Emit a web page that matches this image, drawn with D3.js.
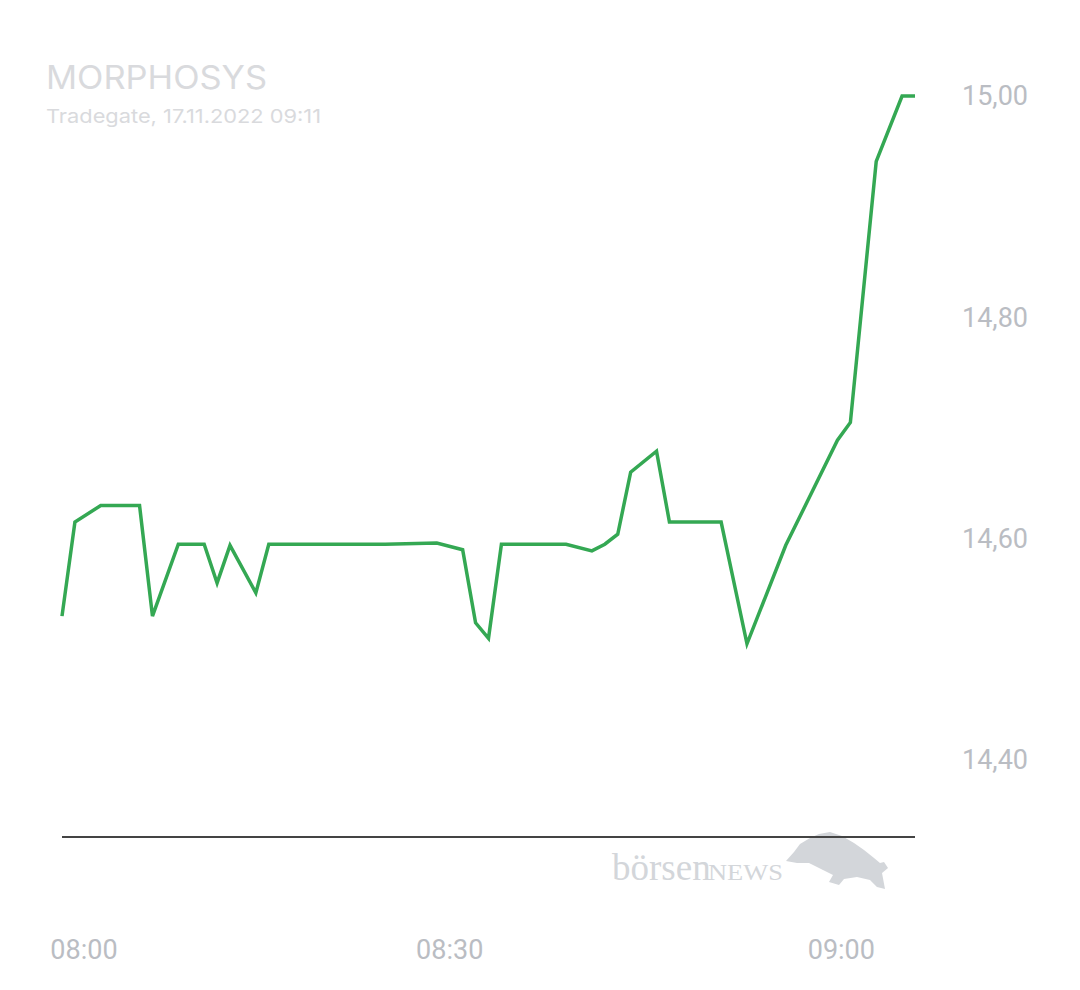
<!DOCTYPE html>
<html>
<head>
<meta charset="utf-8">
<script src="https://cdn.jsdelivr.net/npm/d3@7"></script>
<style>
  body { margin: 0; background: #fff; }
  svg { display: block; }
</style>
</head>
<body>
<svg width="1080" height="990"></svg>
<script>
// trade index (one step per quote slot) and price in EUR
var tradeIndex = [0, 1, 3, 5, 6, 7, 9, 11, 12, 13, 15, 16, 20, 25, 29, 31, 32, 33, 34, 39, 41, 42, 43, 44, 46, 47, 51, 53, 56, 60, 61, 63, 65, 66];
var prices = [14.530, 14.615, 14.630, 14.630, 14.630, 14.530, 14.595, 14.595, 14.560, 14.594, 14.551, 14.595, 14.595, 14.595, 14.596, 14.590, 14.524, 14.510, 14.595, 14.595, 14.589, 14.595, 14.604, 14.660, 14.679, 14.615, 14.615, 14.505, 14.594, 14.689, 14.705, 14.941, 15.000, 15.000];

var priceTicks = [14.4, 14.6, 14.8, 15.0];
var timeTicks = [1.7, 30, 60.3];
var timeLabels = ["08:00", "08:30", "09:00"];

var svg = d3.select("svg");

var x = d3.scaleLinear().domain([0, 66]).range([62, 915]);
var y = d3.scaleLinear().domain([14.4, 15.0]).range([760, 96]);
var baseY = 837;

var data = tradeIndex.map(function(d, i) { return { i: d, v: prices[i] }; });

// title
svg.append("text")
    .attr("x", 46).attr("y", 89)
    .style("font-family", "Inter, 'Open Sans', sans-serif")
    .style("font-size", "32px")
    .style("fill", "#d9dadd")
    .attr("textLength", 221)
    .attr("lengthAdjust", "spacingAndGlyphs")
    .text("MORPHOSYS");

svg.append("text")
    .attr("x", 46).attr("y", 123)
    .style("font-family", "Inter, 'Open Sans', sans-serif")
    .style("font-size", "19px")
    .style("fill", "#d9dadd")
    .attr("textLength", 275)
    .attr("lengthAdjust", "spacingAndGlyphs")
    .text("Tradegate, 17.11.2022 09:11");

// watermark
var wm = svg.append("g").style("fill", "#d3d6da");
wm.append("text")
    .attr("x", 612).attr("y", 880)
    .style("font-family", "'Liberation Serif', 'DejaVu Serif', serif")
    .style("font-size", "37px")
    .text("börsen");
wm.append("text")
    .attr("x", 708).attr("y", 880)
    .style("font-family", "'Liberation Serif', 'DejaVu Serif', serif")
    .style("font-size", "24px")
    .attr("textLength", 75)
    .attr("lengthAdjust", "spacingAndGlyphs")
    .text("NEWS");
wm.append("path")
    .attr("d", "M786,861 L794,852 L800,844 L810,838 L819,834 L830,832 L842,836 L854,843 L864,850 L874,858 L880,863 L884,862 L888,868 L882,873 L885,889 L877,887 L870,880 L857,877 L844,879 L839,885 L829,882 L833,875 L821,869 L809,863 L797,863 Z");

// baseline
svg.append("line")
    .attr("x1", x(0)).attr("x2", x(66))
    .attr("y1", baseY).attr("y2", baseY)
    .style("stroke", "#444")
    .style("stroke-width", 2);

// price axis on the right
svg.selectAll(".ylab")
    .data(priceTicks)
    .enter().append("text")
    .attr("class", "ylab")
    .attr("x", 962)
    .attr("y", function(d) { return y(d); })
    .attr("dy", "0.35em")
    .style("font-family", "Roboto, sans-serif")
    .style("font-size", "27px")
    .style("fill", "#babdc3")
    .text(function(d) { return d.toFixed(2).replace(".", ","); });

// time labels
svg.selectAll(".xlab")
    .data(timeTicks)
    .enter().append("text")
    .attr("class", "xlab")
    .attr("x", function(d) { return x(d); })
    .attr("y", 950)
    .attr("dy", "0.35em")
    .attr("text-anchor", "middle")
    .style("font-family", "Roboto, sans-serif")
    .style("font-size", "27px")
    .style("fill", "#babdc3")
    .text(function(d, i) { return timeLabels[i]; });

var line = d3.line()
    .x(function(d) { return x(d.i); })
    .y(function(d) { return y(d.v); });

svg.append("path")
    .datum(data)
    .attr("d", line)
    .style("fill", "none")
    .style("stroke", "#34a853")
    .style("stroke-width", 3.5)
    .style("stroke-linejoin", "miter");
</script>
</body>
</html>
